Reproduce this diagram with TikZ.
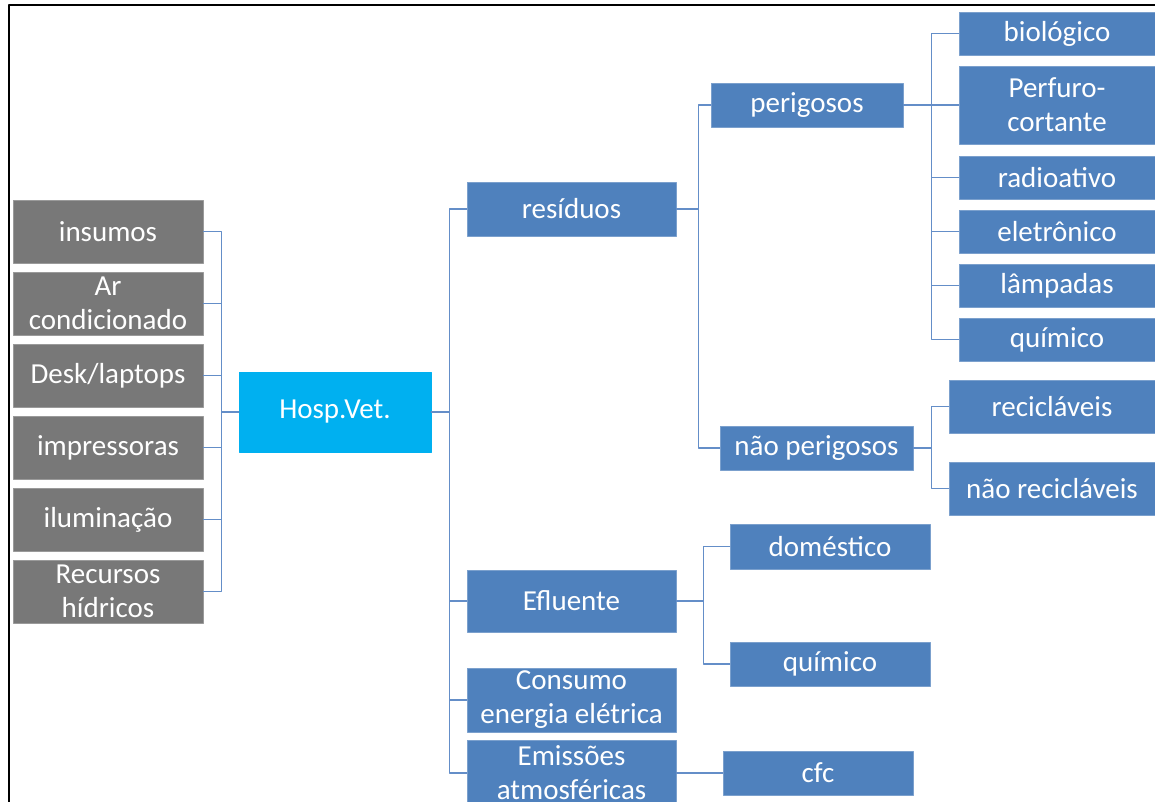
\documentclass[tikz,border=0pt]{standalone}
\usepackage{fontspec}
\setmainfont{Carlito}
\definecolor{boxblue}{RGB}{79,129,189}
\definecolor{boxgray}{RGB}{120,120,120}
\definecolor{hospcyan}{RGB}{0,176,240}
\definecolor{linkblue}{RGB}{100,142,200}
\begin{document}
\begin{tikzpicture}[x=1pt, y=-1pt, line join=round, line cap=round]
\tikzset{
  sz/.style 2 args={minimum width=#1pt, minimum height=#2pt},
  box/.style={fill=boxblue, draw=boxblue!75!white, line width=0.8pt, text=white, inner sep=0pt, align=center, font=\fontsize{29}{34}\selectfont},
  graybox/.style={box, fill=boxgray, draw=boxgray!75!white},
  hospbox/.style={box, fill=hospcyan, draw=hospcyan},
  link/.style={draw=linkblue, line width=1.3pt}
}
\useasboundingbox (0,0) rectangle (1155,802);
\clip (0,0) rectangle (1155,802);
\draw[line width=2.2pt, line cap=butt] (9,802) -- (9,5) -- (1155,5);
\node[graybox, sz={190}{63}] (insumos) at (108,231.5) {insumos};
\node[graybox, sz={190}{63}] (arcond) at (108,303.5) {Ar\\condicionado};
\node[graybox, sz={190}{63}] (desk) at (108,375.5) {Desk/laptops};
\node[graybox, sz={190}{63}] (impress) at (108,447.5) {impressoras};
\node[graybox, sz={190}{63}] (ilum) at (108,519.5) {iluminação};
\node[graybox, sz={190}{63}] (recursos) at (108,591.5) {Recursos\\hídricos};
\node[hospbox, sz={192}{80}] (hosp) at (335,412) {Hosp.Vet.};
\node[box, sz={209}{54}] (residuos) at (571.5,209) {resíduos};
\node[box, sz={209}{62}] (efluente) at (571.5,601) {Efluente};
\node[box, sz={209}{64}] (consumo) at (571.5,700) {Consumo\\energia elétrica};
\node[box, sz={209}{66}] (emissoes) at (571.5,773) {Emissões\\atmosféricas};
\node[box, sz={192}{44}] (perigosos) at (807,105) {perigosos};
\node[box, sz={193}{44}] (naoperig) at (816.5,448) {não perigosos};
\node[box, sz={200}{45}] (domestico) at (830,546.5) {doméstico};
\node[box, sz={200}{44}] (quimicoe) at (830,664) {químico};
\node[box, sz={190}{44}] (cfc) at (818,773) {cfc};
\node[box, sz={196}{43}] (biologico) at (1057,33.5) {biológico};
\node[box, sz={196}{78}] (perfuro) at (1057,105) {Perfuro-\\cortante};
\node[box, sz={196}{43}] (radioativo) at (1057,177.5) {radioativo};
\node[box, sz={196}{43}] (eletronico) at (1057,231.5) {eletrônico};
\node[box, sz={196}{43}] (lampadas) at (1057,285.5) {lâmpadas};
\node[box, sz={196}{43}] (quimicop) at (1057,339.5) {químico};
\node[box, sz={206}{53}] (reciclaveis) at (1052,406.5) {recicláveis};
\node[box, sz={206}{53}] (naorecic) at (1052,488.5) {não recicláveis};
\foreach \n in {insumos,arcond,desk,impress,ilum,recursos}
  \draw[link] (hosp.west) -- ++(-17,0) |- (\n.east);
\foreach \n in {residuos,efluente,consumo,emissoes}
  \draw[link] (hosp.east) -- ++(18,0) |- (\n.west);
\foreach \n in {perigosos,naoperig}
  \draw[link] (residuos.east) -- ++(22,0) |- (\n.west);
\foreach \n in {biologico,perfuro,radioativo,eletronico,lampadas,quimicop}
  \draw[link] (perigosos.east) -- ++(28,0) |- (\n.west);
\foreach \n in {reciclaveis,naorecic}
  \draw[link] (naoperig.east) -- ++(18,0) |- (\n.west);
\foreach \n in {domestico,quimicoe}
  \draw[link] (efluente.east) -- ++(27,0) |- (\n.west);
\draw[link] (emissoes.east) -- (cfc.west);
\end{tikzpicture}
\end{document}
